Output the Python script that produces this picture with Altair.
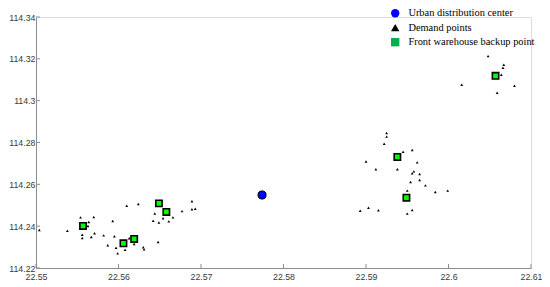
import altair as alt
import pandas as pd

# Demand points (longitude-like x, latitude-like y)
demand_x = [22.5504, 22.5538, 22.5554, 22.5556, 22.5556, 22.5563, 22.5564, 22.5570, 22.5571, 22.5567,
            22.5582, 22.5593, 22.5595, 22.5587, 22.5597, 22.5599, 22.5608, 22.5610, 22.5613, 22.5618,
            22.5619, 22.5624, 22.5630, 22.5631, 22.5648, 22.5644, 22.5642, 22.5649, 22.5654, 22.5661,
            22.5666, 22.5677, 22.5689, 22.5689, 22.5693,
            22.5893, 22.5903, 22.5915, 22.5900, 22.5912, 22.5925, 22.5925, 22.5922, 22.5945, 22.5956,
            22.5938, 22.5962, 22.5958, 22.5956, 22.5965, 22.5954, 22.5965, 22.5972, 22.5950, 22.5984,
            22.5999, 22.5956, 22.5950,
            22.6048, 22.6067, 22.6066, 22.6064, 22.6016, 22.6059, 22.6080]
demand_y = [114.2382, 114.2378, 114.2442, 114.2359, 114.2343, 114.2401, 114.2420, 114.2444, 114.2366, 114.2348,
            114.2356, 114.2425, 114.2352, 114.2309, 114.2297, 114.2270, 114.2287, 114.2498, 114.2342, 114.2354,
            114.2315, 114.2506, 114.2299, 114.2289, 114.2324, 114.2461, 114.2426, 114.2418, 114.2438, 114.2423,
            114.2442, 114.2472, 114.2519, 114.2481, 114.2483,
            114.2474, 114.2488, 114.2476, 114.2709, 114.2672, 114.2845, 114.2828, 114.2794, 114.2756, 114.2764,
            114.2672, 114.2705, 114.2662, 114.2653, 114.2649, 114.2611, 114.2621, 114.2595, 114.2570, 114.2563,
            114.2570, 114.2477, 114.2460,
            114.3213, 114.3172, 114.3157, 114.3124, 114.3076, 114.3038, 114.3071]

# Front warehouse backup points
backup_x = [22.5557, 22.5606, 22.5619, 22.5649, 22.5658, 22.5938, 22.5949, 22.6057]
backup_y = [114.2401, 114.2318, 114.2339, 114.2509, 114.2468, 114.2731, 114.2536, 114.3119]

# Urban distribution center
center_x = [22.5774]
center_y = [114.2549]

categories = ["Urban distribution center", "Demand points", "Front warehouse backup point"]
x_ticks = [22.55, 22.56, 22.57, 22.58, 22.59, 22.6, 22.61]
y_ticks = [114.22, 114.24, 114.26, 114.28, 114.3, 114.32, 114.34]

W, H = 495, 251
AXIS_GRAY = "#8c8c8c"

demand = pd.DataFrame({"x": demand_x, "y": demand_y, "type": categories[1]})
backup = pd.DataFrame({"x": backup_x, "y": backup_y, "type": categories[2]})
center = pd.DataFrame({"x": center_x, "y": center_y, "type": categories[0]})
alldf = pd.concat([center, demand, backup], ignore_index=True)

xscale = alt.Scale(domain=[22.55, 22.61], nice=False, zero=False)
yscale = alt.Scale(domain=[114.22, 114.34], nice=False, zero=False)

xax = alt.Axis(values=x_ticks, format=".2~f", ticks=False, grid=False, domainColor=AXIS_GRAY,
               labelFont="Liberation Sans", labelFontSize=8.8, labelColor="#3a3a3a",
               labelPadding=4, title=None, labelFlush=False)
yax = alt.Axis(values=y_ticks, format=".2~f", ticks=False, grid=False, domainColor=AXIS_GRAY,
               labelFont="Liberation Sans", labelFontSize=8.8, labelColor="#3a3a3a",
               labelPadding=1, title=None, labelFlush=False)

# invisible layer that produces the legend
legend_layer = alt.Chart(alldf).mark_point(opacity=0, filled=True).encode(
    x=alt.X("x:Q", scale=xscale, axis=xax),
    y=alt.Y("y:Q", scale=yscale, axis=yax),
    color=alt.Color("type:N", scale=alt.Scale(domain=categories, range=["#0000ff", "#000000", "#00b050"]),
                    legend=alt.Legend(title=None, orient="none", legendX=354, legendY=-9,
                                      labelFont="Liberation Serif", labelFontSize=10.4, labelColor="#000000",
                                      symbolOpacity=1, symbolSize=70, symbolStrokeWidth=0,
                                      rowPadding=3.5, labelOffset=8, padding=0)),
    shape=alt.Shape("type:N", scale=alt.Scale(domain=categories, range=["circle", "triangle-up", "square"]),
                    legend=None),
)

demand_layer = alt.Chart(demand).mark_point(shape="triangle-up", filled=True, color="#000000", size=8, opacity=1).encode(
    x=alt.X("x:Q", scale=xscale), y=alt.Y("y:Q", scale=yscale))

backup_layer = alt.Chart(backup).mark_point(shape="square", filled=True, fill="#00ff00", stroke="#000000",
                                            strokeWidth=1.6, size=40, opacity=1).encode(
    x=alt.X("x:Q", scale=xscale), y=alt.Y("y:Q", scale=yscale))

center_layer = alt.Chart(center).mark_point(shape="circle", filled=True, fill="#0000ff", stroke="#000000",
                                            strokeWidth=1, size=65, opacity=1).encode(
    x=alt.X("x:Q", scale=xscale), y=alt.Y("y:Q", scale=yscale))

xt = pd.DataFrame({"v": x_ticks})
yt = pd.DataFrame({"v": y_ticks})
xtick_layer = alt.Chart(xt).mark_rule(color=AXIS_GRAY, strokeWidth=1).encode(
    x=alt.X("v:Q", scale=xscale), y=alt.value(H - 4), y2=alt.value(H))
ytick_layer = alt.Chart(yt).mark_rule(color=AXIS_GRAY, strokeWidth=1).encode(
    y=alt.Y("v:Q", scale=yscale), x=alt.value(0), x2=alt.value(4))

chart = alt.layer(legend_layer, xtick_layer, ytick_layer, demand_layer, backup_layer, center_layer).properties(
    width=W, height=H,
    autosize=alt.AutoSizeParams(type="none"),
    padding={"left": 28, "top": 9, "right": 11, "bottom": 16},
).configure_view(stroke=None).configure(background="white")

chart.save("out.html", embed_options={"renderer": "svg", "actions": False})
